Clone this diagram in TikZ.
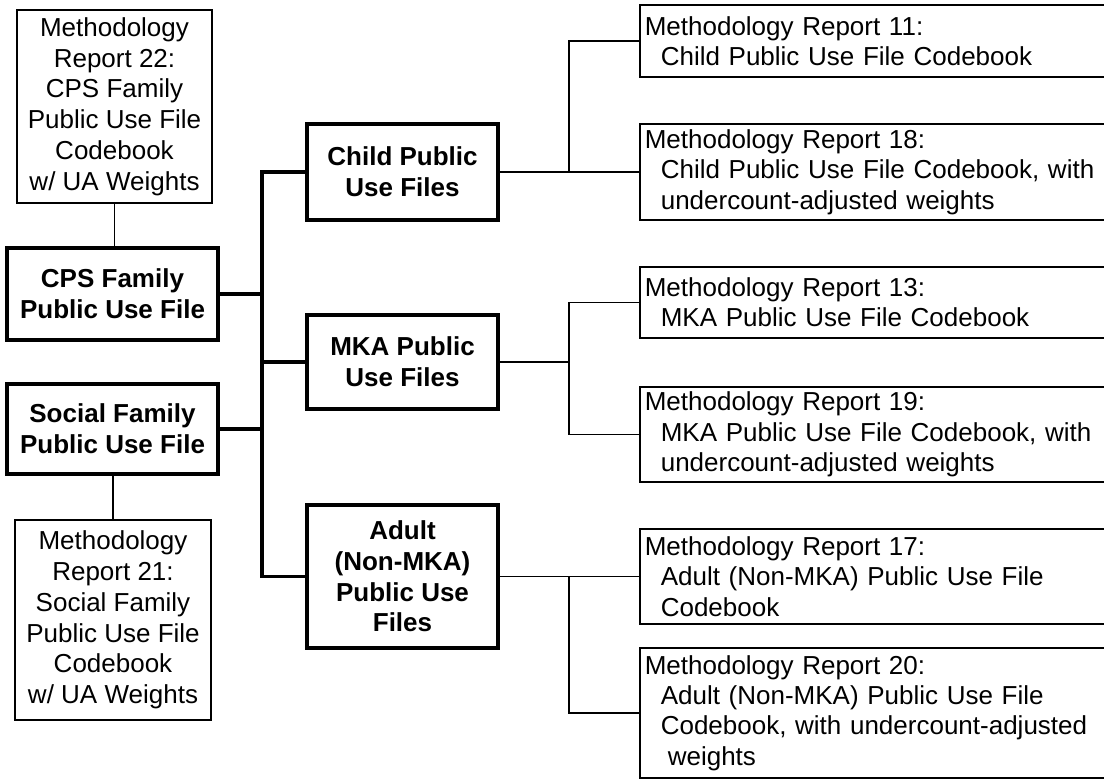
\documentclass[tikz,border=0pt]{standalone}
\usepackage{fontspec}
\setmainfont{Liberation Sans}
\usepackage{tikz}
\usetikzlibrary{positioning}
\tikzstyle{reportnode}=[black, draw=black, line width=0.8pt, shape=rectangle, fill=white, inner sep=2.5pt, align=center, font=\fontsize{13pt}{15.4pt}\selectfont]
\tikzstyle{filenode}=[black, draw=black, line width=1.6pt, shape=rectangle, fill=white, inner sep=2.5pt, align=center, font=\fontsize{13pt}{15.4pt}\selectfont\bfseries]
\tikzstyle{codebooknode}=[black, draw=black, line width=0.8pt, shape=rectangle, fill=white, anchor=west, minimum width=234pt, text width=229pt, inner sep=2.5pt, align=left, font=\fontsize{13pt}{15.2pt}\selectfont]
\tikzstyle{thinline}=[line width=0.8pt, color=black]
\tikzstyle{thickline}=[line width=1.6pt, color=black]
\newcommand*{\ind}{\hspace*{8pt}}

\begin{document}
\begin{tikzpicture}[x=0.5pt, y=-0.5pt]
\useasboundingbox (0,0) rectangle (1104,779);
\clip (0,0) rectangle (1104,779);
\node [reportnode, minimum width=97.5pt, minimum height=96.5pt] (mr22) at (114.5,106.5) {Methodology\\Report 22:\\CPS Family\\Public Use File\\Codebook\\w/ UA Weights};
\node [filenode, minimum width=105.5pt, minimum height=46pt] (cps) at (112.5,294) {CPS Family\\Public Use File};
\node [filenode, minimum width=105.5pt, minimum height=45pt] (social) at (112.5,429) {Social Family\\Public Use File};
\node [reportnode, minimum width=98pt, minimum height=100pt] (mr21) at (113,620) {Methodology\\Report 21:\\Social Family\\Public Use File\\Codebook\\w/ UA Weights};

\node [filenode, minimum width=95.5pt, minimum height=48pt] (child) at (402.5,172) {Child Public\\Use Files};
\node [filenode, minimum width=95.5pt, minimum height=47pt] (mka) at (402.5,362) {MKA Public\\Use Files};
\node [filenode, minimum width=95.5pt, minimum height=71.5pt] (adult) at (402.5,576.5) {Adult\\(Non-MKA)\\Public Use\\Files};

\node [codebooknode, minimum height=36pt] (mr11) at (639,41) {Methodology Report 11:\\\ind Child Public Use File Codebook};
\node [codebooknode, minimum height=48pt] (mr18) at (639,172) {Methodology Report 18:\\\ind Child Public Use File Codebook, with\\\ind undercount-adjusted weights};
\node [codebooknode, minimum height=35.5pt] (mr13) at (639,302.5) {Methodology Report 13:\\\ind MKA Public Use File Codebook};
\node [codebooknode, minimum height=46.5pt] (mr19) at (639,434.5) {Methodology Report 19:\\\ind MKA Public Use File Codebook, with\\\ind undercount-adjusted weights};
\node [codebooknode, minimum height=47.5pt] (mr17) at (639,576.5) {Methodology Report 17:\\\ind Adult (Non-MKA) Public Use File\\\ind Codebook};
\node [codebooknode, minimum height=65pt] (mr20) at (639,713) {Methodology Report 20:\\\ind Adult (Non-MKA) Public Use File\\\ind Codebook, with undercount-adjusted\\\ind\hspace*{3.5pt}weights};

\coordinate (trunk) at (262,0);
\coordinate (rbus) at (569,0);

\draw[thinline] (mr22.south) -- (mr22.south |- cps.north);
\draw[thinline] (mr21.north) -- (mr21.north |- social.south);
\draw[thickline] (cps.east) -- (cps.east -| trunk);
\draw[thickline] (social.east) -- (social.east -| trunk);
\draw[thickline] (child.west) -- (child.west -| trunk) -- (adult.west -| trunk) -- (adult.west);
\draw[thickline] (mka.west) -- (mka.west -| trunk);

\draw[thinline] (child.east) -- (mr18.west);
\draw[thinline] (mr11.west) -- (mr11.west -| rbus) -- (mr18.west -| rbus);
\draw[thinline] (mka.east) -- (mka.east -| rbus);
\draw[thinline] (mr13.west) -- (mr13.west -| rbus) -- (mr19.west -| rbus) -- (mr19.west);
\draw[thinline] (adult.east) -- (mr17.west);
\draw[thinline] (mr17.west -| rbus) -- (mr20.west -| rbus) -- (mr20.west);
\end{tikzpicture}
\end{document}
